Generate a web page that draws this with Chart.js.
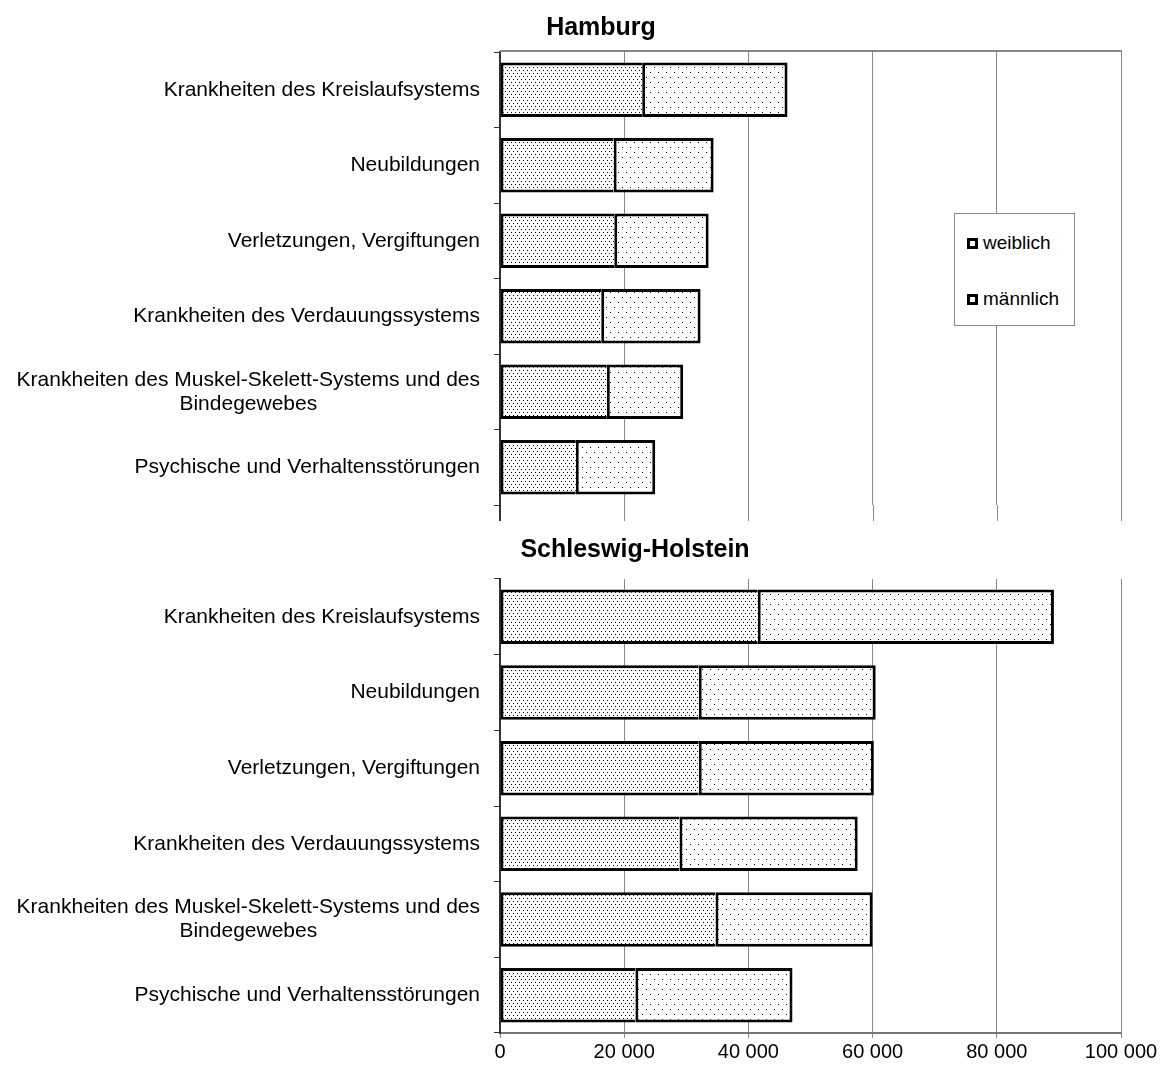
<!DOCTYPE html>
<html>
<head>
<meta charset="utf-8">
<script src="https://cdn.jsdelivr.net/npm/chart.js@4.4.1/dist/chart.umd.min.js"></script>
<style>
  body { margin: 0; background: #fff; }
  #wrap { position: relative; width: 1161px; height: 1066px; font-family: "Liberation Sans", Arial, sans-serif; }
  #c1 { position: absolute; left: 0; top: 0; }
  #c2 { position: absolute; left: 0; top: 522px; }
  #legend { position: absolute; left: 954px; top: 213px; width: 121px; height: 113px; border: 1px solid #888;
            background: #fff; box-sizing: border-box; font-size: 19px; color: #000; }
  .item { position: absolute; left: 12px; height: 22px; display: flex; align-items: center; }
  .sw { flex: 0 0 11px; width: 11px; height: 11px; border: 3px solid #000; box-sizing: border-box; margin-right: 5px; background: #fff; }
</style>
</head>
<body>
<div id="wrap">
  <canvas id="c1" width="1161" height="522"></canvas>
  <canvas id="c2" width="1161" height="544"></canvas>
  <div id="legend"></div>
</div>
<script>
// data
const categories = [
  'Krankheiten des Kreislaufsystems',
  'Neubildungen',
  'Verletzungen, Vergiftungen',
  'Krankheiten des Verdauungssystems',
  ['Krankheiten des Muskel-Skelett-Systems und des', 'Bindegewebes'],
  'Psychische und Verhaltensstörungen'
];
const seriesNames = ['weiblich', 'männlich'];
const hamburgWeiblich = [22900, 18300, 18400, 16300, 17200, 12200];
const hamburgMaennlich = [23400, 16100, 15200, 16000, 12300, 12800];
const shWeiblich = [41500, 32000, 32000, 28900, 34700, 21800];
const shMaennlich = [47700, 28500, 28200, 28700, 25300, 25300];
const xTicks = [0, 20000, 40000, 60000, 80000, 100000];

const FONT = '"Liberation Sans", Arial, sans-serif';

// dot fills
function dots(w, h, pts) {
  const c = document.createElement('canvas');
  c.width = w; c.height = h;
  const g = c.getContext('2d');
  g.fillStyle = '#fff';
  g.fillRect(0, 0, w, h);
  g.fillStyle = '#000';
  pts.forEach(p => g.fillRect(p[0], p[1], 1, 1));
  return g.createPattern(c, 'repeat');
}
const fillW = dots(4, 6, [[1, 1], [3, 4]]);
const fillM = dots(8, 10, [[2, 2], [6, 7]]);

const fmt = v => String(v).replace(/\B(?=(\d{3})+(?!\d))/g, ' ');

// title, category labels, gridline extension
const panelDeco = {
  id: 'panelDeco',
  afterDraw(chart, args, opts) {
    const { ctx, chartArea: a, scales: { x, y } } = chart;
    ctx.save();
    ctx.fillStyle = '#000';
    ctx.textBaseline = 'middle';
    ctx.font = 'bold 25px ' + FONT;
    ctx.textAlign = 'center';
    ctx.fillText(opts.title, opts.titleX, 28);

    ctx.font = '21px ' + FONT;
    const right = a.left - 20;
    y.getLabels().forEach((lab, i) => {
      const cy = y.getPixelForValue(i);
      const lines = Array.isArray(lab) ? lab : [lab];
      const w0 = ctx.measureText(lines[0]).width;
      lines.forEach((ln, k) => {
        const ly = cy + (k - (lines.length - 1) / 2) * 24;
        if (k === 0) { ctx.textAlign = 'right'; ctx.fillText(ln, right, ly); }
        else { ctx.textAlign = 'center'; ctx.fillText(ln, right - w0 / 2, ly); }
      });
    });

    if (opts.top) {
      ctx.strokeStyle = '#888';
      ctx.lineWidth = 2;
      ctx.beginPath();
      ctx.moveTo(a.left, a.top - 1);
      ctx.lineTo(a.right + 1, a.top - 1);
      ctx.stroke();
    }
    if (opts.extend) {
      ctx.strokeStyle = '#888';
      ctx.lineWidth = 1;
      x.ticks.forEach(t => {
        const px = Math.round(x.getPixelForValue(t.value)) + 0.5;
        ctx.beginPath();
        ctx.moveTo(px, a.bottom);
        ctx.lineTo(px, a.bottom + opts.extend);
        ctx.stroke();
      });
      ctx.strokeStyle = '#333';
      ctx.lineWidth = 2;
      ctx.beginPath();
      ctx.moveTo(a.left, a.bottom - 2);
      ctx.lineTo(a.left, a.bottom + opts.extend);
      ctx.stroke();
    }
    ctx.restore();
  }
};

function makeChart(id, w, m, title, titleX, isBottom) {
  return new Chart(document.getElementById(id), {
    type: 'bar',
    data: {
      labels: categories,
      datasets: [
        { label: seriesNames[0], data: w, backgroundColor: fillW, borderColor: '#000',
          borderWidth: 3, borderSkipped: 'end' },
        { label: seriesNames[1], data: m, backgroundColor: fillM, borderColor: '#000',
          borderWidth: 3, borderSkipped: false }
      ]
    },
    options: {
      indexAxis: 'y',
      responsive: false,
      animation: false,
      layout: { padding: { left: 0, right: 40, top: isBottom ? 57 : 52, bottom: 0 } },
      datasets: { bar: { categoryPercentage: 1, barPercentage: 0.72 } },
      plugins: {
        legend: { display: false },
        tooltip: { enabled: false },
        panelDeco: { title: title, titleX: titleX, top: !isBottom, extend: isBottom ? 0 : 16 }
      },
      scales: {
        x: {
          stacked: true,
          min: 0,
          max: 100000,
          afterBuildTicks: s => { s.ticks = xTicks.map(v => ({ value: v })); },
          afterFit: s => { s.height = isBottom ? 33 : 17; },
          grid: { color: '#888', lineWidth: 1, drawTicks: isBottom, tickLength: 5 },
          border: { display: isBottom, color: '#777', width: 2 },
          ticks: {
            display: isBottom,
            padding: 2,
            color: '#000',
            font: { family: FONT, size: 20 },
            callback: v => fmt(v)
          }
        },
        y: {
          stacked: true,
          afterFit: s => { s.width = 500; },
          grid: { offset: true, drawOnChartArea: false, color: '#333', tickLength: 6 },
          border: { color: '#333', width: 2 },
          ticks: { display: false }
        }
      }
    },
    plugins: [panelDeco]
  });
}

makeChart('c1', hamburgWeiblich, hamburgMaennlich, 'Hamburg', 601, false);
makeChart('c2', shWeiblich, shMaennlich, 'Schleswig-Holstein', 635, true);

// legend
const legend = document.getElementById('legend');
seriesNames.forEach((n, i) => {
  const it = document.createElement('div');
  it.className = 'item';
  it.style.top = (18 + i * 56) + 'px';
  it.innerHTML = '<span class="sw"></span><span></span>';
  it.lastChild.textContent = n;
  legend.appendChild(it);
});
</script>
</body>
</html>
